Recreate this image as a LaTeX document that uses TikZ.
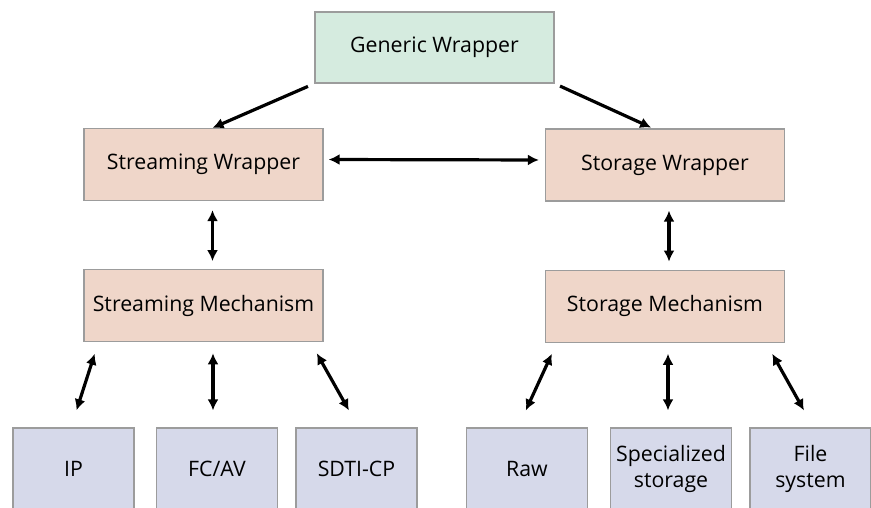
\documentclass[tikz,border=0pt]{standalone}
\usepackage{fontspec}
\setmainfont{Open Sans}
\usetikzlibrary{arrows.meta,positioning}
\definecolor{genfill}{HTML}{D5EBDF}
\definecolor{wrapfill}{HTML}{EFD6C9}
\definecolor{leaffill}{HTML}{D6D9EA}
\definecolor{boxline}{HTML}{9C9C9C}

\begin{document}
\begin{tikzpicture}[x=1pt,y=-1pt,
  box/.style={draw=boxline,line width=1.2pt,minimum height=72pt,inner sep=0pt,align=center,font=\fontsize{21.3}{26}\selectfont},
  wrap/.style={box,fill=wrapfill,minimum width=239pt},
  leaf/.style={box,fill=leaffill,minimum width=121pt,minimum height=82pt},
  arr/.style={-{Latex[length=11pt,width=11pt]},line width=3.2pt},
  dbl/.style={{Latex[length=11pt,width=11pt]}-{Latex[length=11pt,width=11pt]},line width=3.2pt}]

  \useasboundingbox (0,0) rectangle (871,508);
  \clip (0,0) rectangle (871,508);

  \node[box,fill=genfill,minimum width=239pt,minimum height=71pt] (gen) at (434.5,47.5) {Generic Wrapper};
  \node[wrap] (strw) at (203.5,164.5) {Streaming Wrapper};
  \node[wrap] (stow) at (665,165) {Storage Wrapper};
  \node[wrap] (strm) [below=68pt of strw] {Streaming Mechanism};
  \node[wrap] (stom) [below=68pt of stow] {Storage Mechanism};

  \node[leaf] (ip) at (73.5,469) {IP};
  \node[leaf] (fcav) at (217,469) {FC/AV};
  \node[leaf] (sdti) at (356.5,469) {SDTI-CP};
  \node[leaf] (raw) at (527,469) {Raw};
  \node[leaf] (spec) at (671,469) {Specialized\\storage};
  \node[leaf] (fsys) at (810.5,469) {File\\system};

  \draw[arr,shorten <=7pt] (gen.south west) -- ([xshift=9pt]strw.north);
  \draw[arr,shorten <=6pt,shorten >=2pt] (gen.south east) -- ([xshift=-12pt]stow.north);
  \draw[dbl,shorten <=5pt,shorten >=6pt] ([yshift=5pt]strw.east) -- ([yshift=5pt]stow.west);
  \draw[dbl,shorten <=9pt,shorten >=8pt] ([xshift=9pt]strw.south) -- ([xshift=9pt]strm.north);
  \draw[dbl,shorten <=9pt,shorten >=8pt] ([xshift=4pt]stow.south) -- ([xshift=4pt]stom.north);

  \draw[dbl,shorten <=12pt,shorten >=18pt] ([xshift=15pt]strm.south west) -- ([xshift=-2.5pt]ip.north);
  \draw[dbl,shorten <=11pt,shorten >=17pt] ([xshift=-4pt]fcav.north |- strm.south) -- ([xshift=-4pt]fcav.north);
  \draw[dbl,shorten <=12.6pt,shorten >=19.5pt] ([xshift=-13pt]strm.south east) -- ([xshift=2pt]sdti.north);
  \draw[dbl,shorten <=12pt,shorten >=18.7pt] ([xshift=12pt]stom.south west) -- ([xshift=-9pt]raw.north);
  \draw[dbl,shorten <=11pt,shorten >=17pt] ([xshift=-3pt]spec.north |- stom.south) -- ([xshift=-3pt]spec.north);
  \draw[dbl,shorten <=12.6pt,shorten >=19.5pt] ([xshift=-19pt]stom.south east) -- ([xshift=3pt]fsys.north);

\end{tikzpicture}
\end{document}
